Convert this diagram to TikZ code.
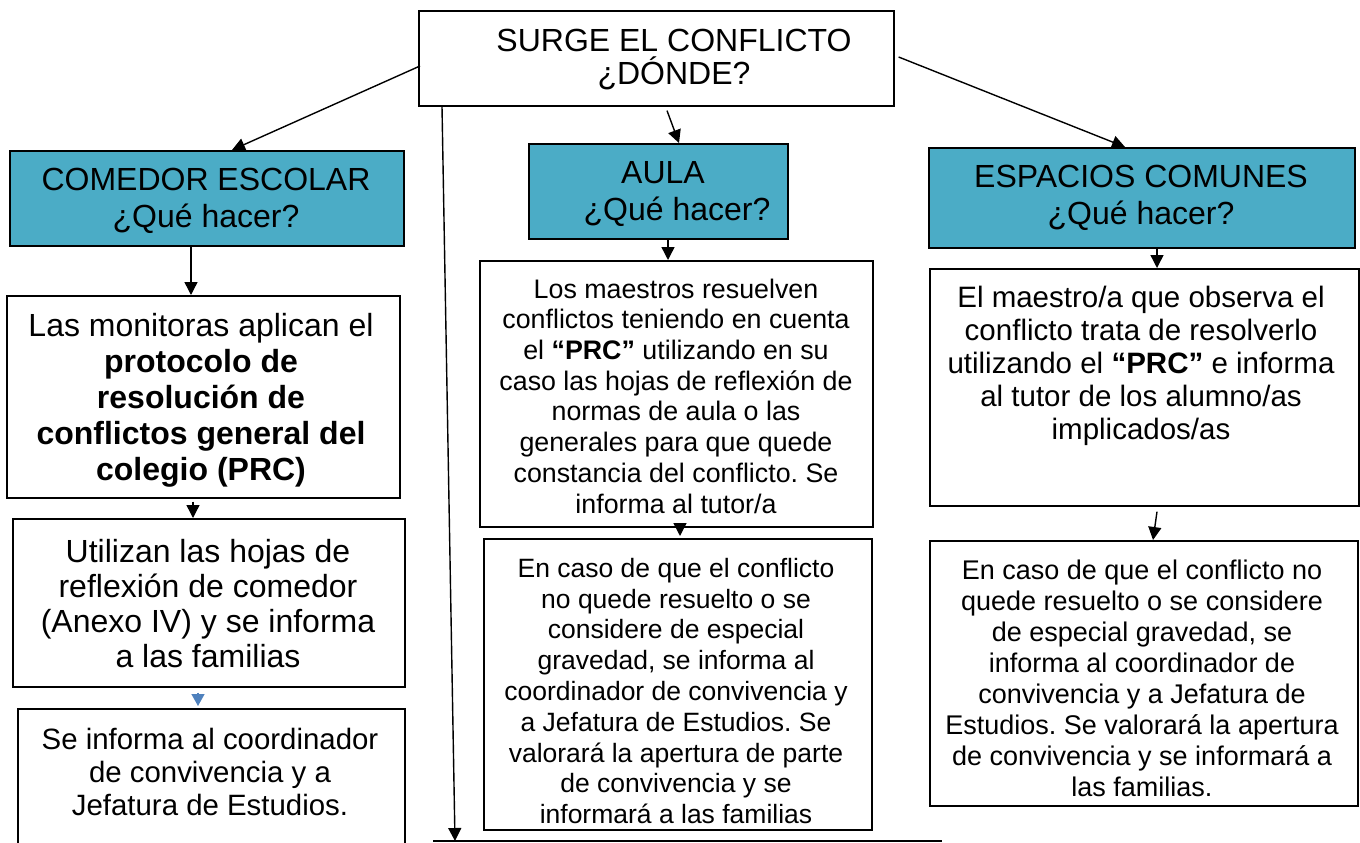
\documentclass[tikz,border=0pt]{standalone}
\usepackage{fontspec}
\setmainfont{Liberation Sans}
\usetikzlibrary{arrows.meta,calc}
\definecolor{boxblue}{HTML}{4BACC6}
\definecolor{arrblue}{HTML}{4F81BD}
\frenchspacing
\begin{document}
\begin{tikzpicture}[x=1pt,y=-1pt,
  box/.style={draw=black, line width=1.6pt, fill=white, rectangle, inner sep=0pt, anchor=north west},
  bluebox/.style={box, fill=boxblue},
  txt/.style={align=center, inner sep=0pt, anchor=center},
  arr/.style={line width=1.4pt, -{Triangle[width=13pt,length=13pt]}},
  smallarr/.style={line width=1.4pt, draw=arrblue, -{Triangle[width=13pt,length=12pt]}},
]
\useasboundingbox (0,0) rectangle (1360,843);
\fill[white] (0,0) rectangle (1360,843);

% boxes
\node[box, minimum width=475pt, minimum height=95pt] (top) at (418,10) {};
\node[bluebox, minimum width=394pt, minimum height=95pt] (cL) at (9,150) {};
\node[bluebox, minimum width=259pt, minimum height=95pt] (cM) at (528,143) {};
\node[bluebox, minimum width=426pt, minimum height=100pt] (cR) at (928,147) {};
\node[box, minimum width=393pt, minimum height=202pt] (L2) at (6,295) {};
\node[box, minimum width=392pt, minimum height=168pt] (L3) at (12,518) {};
\node[box, minimum width=387pt, minimum height=150pt] (L4) at (17,708) {};
\node[box, minimum width=393pt, minimum height=266pt] (M2) at (479,260) {};
\node[box, minimum width=388pt, minimum height=291pt] (M3) at (483,538) {};
\node[box, minimum width=429pt, minimum height=237pt] (R2) at (929,268) {};
\node[box, minimum width=428pt, minimum height=265pt] (R3) at (929,540) {};

% texts
\node[txt, font=\fontsize{32}{33}\selectfont] (tTop) at (674,60) {SURGE EL CONFLICTO\\¿DÓNDE?};
\node[txt, font=\fontsize{32}{37}\selectfont] (tcL) at (206,201) {COMEDOR ESCOLAR\\¿Qué hacer?};
\node[txt, font=\fontsize{32}{37}\selectfont] (tcM) at (677,194) {AULA\kern28pt\\¿Qué hacer?};
\node[txt, font=\fontsize{32}{37}\selectfont] (tcR) at (1141,198) {ESPACIOS COMUNES\\¿Qué hacer?};
\node[txt, font=\fontsize{32}{36}\selectfont] (tL2) at (201,400) {Las monitoras aplican el\\\textbf{protocolo de}\\\textbf{resolución de}\\\textbf{conflictos general del}\\\textbf{colegio (PRC)}};
\node[txt, font=\fontsize{32}{35}\selectfont] (tL3) at (208,604) {Utilizan las hojas de\\reflexión de comedor\\(Anexo IV) y se informa\\a las familias};
\node[txt, font=\fontsize{29.4}{33}\selectfont] (tL4) at (210,772) {Se informa al coordinador\\de convivencia y a\\Jefatura de Estudios.};
\node[txt, font=\fontsize{26.8}{30.7}\selectfont] (tM2) at (676,396) {Los maestros resuelven\\conflictos teniendo en cuenta\\el \textbf{“PRC”} utilizando en su\\caso las hojas de reflexión de\\normas de aula o las\\generales para que quede\\constancia del conflicto. Se\\informa al tutor/a};
\node[txt, font=\fontsize{26.5}{30.8}\selectfont] (tM3) at (676,691) {En caso de que el conflicto\\no quede resuelto o se\\considere de especial\\gravedad, se informa al\\coordinador de convivencia y\\a Jefatura de Estudios. Se\\valorará la apertura de parte\\de convivencia y se\\informará a las familias};
\node[txt, font=\fontsize{29.5}{33}\selectfont] (tR2) at (1141,366) {El maestro/a que observa el\\conflicto trata de resolverlo\\utilizando el \textbf{“PRC”} e informa\\al tutor de los alumno/as\\implicados/as};
\node[txt, font=\fontsize{27}{31}\selectfont] (tR3) at (1142,678) {En caso de que el conflicto no\\quede resuelto o se considere\\de especial gravedad, se\\informa al coordinador de\\convivencia y a Jefatura de\\Estudios. Se valorará la apertura\\de convivencia y se informará a\\las familias.};

% bottom line
\coordinate (bl) at (433,841);
\coordinate (br) at (942,841);
\draw[line width=1.3pt] (bl) -- (br);
\coordinate (bArr) at (455,841);

% connectors
\draw[arr] ($(top.north west)+(2,56)$) -- ($(cL.north west)+(223,0)$);
\draw[arr] ($(top.south west)+(249,4)$) -- ($(cM.north west)+(151,0)$);
\draw[arr] ($(top.north east)+(4,47)$) -- ($(cR.north west)+(197,0)$);
\draw[arr] ($(top.south west)+(24,0)$) -- (bArr);
\draw[arr] ($(cL.south west)+(182,0)$) -- ($(L2.north west)+(185,0)$);
\draw[arr] ($(L2.south west)+(187,3)$) -- ($(L3.north west)+(181,0)$);
\draw[smallarr] ($(L3.south west)+(186,5)$) -- ($(L4.north west)+(181,-2)$);
\draw[arr] ($(cM.south west)+(140,0)$) -- ($(M2.north west)+(189,0)$);
\draw[arr] ($(M2.south west)+(201,0)$) -- ($(M3.north west)+(197,-2)$);
\draw[arr] ($(cR.south west)+(229,0)$) -- ($(R2.north west)+(228,0)$);
\draw[arr] ($(R2.south west)+(228,5)$) -- ($(R3.north west)+(224,0)$);
\end{tikzpicture}
\end{document}
